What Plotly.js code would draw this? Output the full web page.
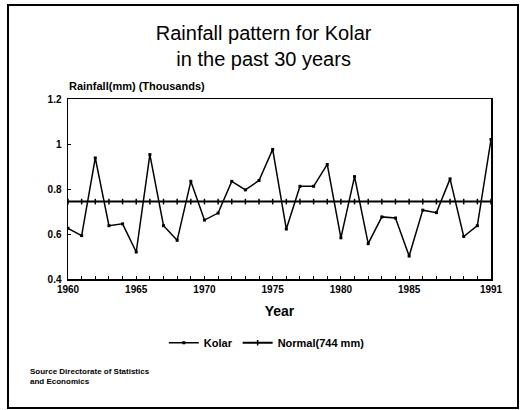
<!DOCTYPE html>
<html>
<head>
<meta charset="utf-8">
<script src="https://cdn.plot.ly/plotly-3.0.1.min.js"></script>
<style>
html,body{margin:0;padding:0;background:#fff;}
#chart{width:522px;height:410px;}
</style>
</head>
<body>
<div id="chart"></div>
<script>
// Data (rainfall in thousands of mm)
const years = [1960,1961,1962,1963,1964,1965,1966,1967,1968,1969,1970,1971,1972,1973,1974,1975,1976,1977,1978,1979,1980,1981,1982,1983,1984,1985,1986,1987,1988,1989,1990,1991];
const kolar = [0.625,0.593,0.938,0.637,0.645,0.520,0.953,0.637,0.572,0.834,0.662,0.693,0.834,0.796,0.838,0.976,0.622,0.812,0.812,0.909,0.583,0.855,0.557,0.676,0.671,0.502,0.706,0.695,0.845,0.589,0.637,1.02];
const normal = [0.744,0.744,0.744,0.744,0.744,0.744,0.744,0.744,0.744,0.744,0.744,0.744,0.744,0.744,0.744,0.744,0.744,0.744,0.744,0.744,0.744,0.744,0.744,0.744,0.744,0.744,0.744,0.744,0.744,0.744,0.744,0.744];
const labelYears = [1960,1965,1970,1975,1980,1985,1991];
const seriesNames = ["Kolar","Normal(744 mm)"];

const font = "Liberation Sans, Arial, sans-serif";

const traces = [
  {x: years, y: kolar, name: seriesNames[0], type: 'scatter', mode: 'lines+markers',
   line: {color: '#000', width: 1.5}, marker: {symbol: 'square', size: 3, color: '#000'}},
  {x: years, y: normal, name: seriesNames[1], type: 'scatter', mode: 'lines+markers',
   line: {color: '#000', width: 2}, marker: {symbol: 'line-ns-open', size: 4, color: '#000', line: {width: 1.5, color: '#000'}}}
];

const tickText = years.map(y => labelYears.includes(y) ? String(y) : '');

const layout = {
  width: 522, height: 410,
  paper_bgcolor: '#fff', plot_bgcolor: '#fff',
  margin: {l: 68, r: 31, t: 99, b: 131},
  font: {family: font, color: '#000'},
  title: {text: 'Rainfall pattern for Kolar<br>in the past 30 years',
          font: {family: font, size: 20, color: '#000'},
          x: 0.505, xref: 'container', xanchor: 'center',
          y: 0.903, yref: 'container', yanchor: 'middle'},
  showlegend: true,
  legend: {orientation: 'h', x: 0.47, xanchor: 'center', y: -0.354, yanchor: 'middle',
           font: {family: font, size: 11, color: '#000', weight: 'bold'},
           itemwidth: 30, bgcolor: 'rgba(0,0,0,0)'},
  xaxis: {
    range: [1960, 1991], tickmode: 'array', tickvals: years, ticktext: tickText,
    ticks: 'inside', ticklen: 3, tickcolor: '#000', tickwidth: 1,
    showline: true, linecolor: '#000', linewidth: 1.5, mirror: true,
    showgrid: false, zeroline: false,
    tickfont: {family: font, size: 10, color: '#000', weight: 'bold'},
    title: {text: 'Year', font: {family: font, size: 14, color: '#000', weight: 'bold'}, standoff: 12}
  },
  yaxis: {
    range: [0.4, 1.2], dtick: 0.2, tick0: 0.4,
    ticks: 'inside', ticklen: 3, tickcolor: '#000', tickwidth: 1,
    showline: true, linecolor: '#000', linewidth: 1.5, mirror: true,
    showgrid: false, zeroline: false,
    tickfont: {family: font, size: 10, color: '#000', weight: 'bold'},
    ticklabelstandoff: 3
  },
  annotations: [
    {text: 'Rainfall(mm) (Thousands)', xref: 'paper', yref: 'paper', x: -0.003, y: 1.075,
     xanchor: 'left', yanchor: 'middle', showarrow: false,
     font: {family: font, size: 11, color: '#000', weight: 'bold'}},
    {text: 'Source Directorate of Statistics<br>and Economics', xref: 'paper', yref: 'paper',
     x: -0.094, y: -0.54, xanchor: 'left', yanchor: 'middle', align: 'left', showarrow: false,
     font: {family: font, size: 8, color: '#000', weight: 'bold'}}
  ],
  shapes: [
    {type: 'rect', xref: 'paper', yref: 'paper', x0: 0, x1: 1, y0: 0, y1: 1,
     line: {color: '#000', width: 2}, fillcolor: 'rgba(0,0,0,0)'}
  ]
};
// outer frame from pixel positions: left 8, right 518, top 5, bottom 408
(function(){
  const pw = 522 - 68 - 31, ph = 410 - 99 - 131;
  const s = layout.shapes[0];
  s.x0 = (8 - 68) / pw; s.x1 = (518 - 68) / pw;
  s.y0 = (410 - 131 - 408) / ph; s.y1 = (410 - 131 - 5) / ph;
})();

Plotly.newPlot('chart', traces, layout, {staticPlot: true, displayModeBar: false});
</script>
</body>
</html>
